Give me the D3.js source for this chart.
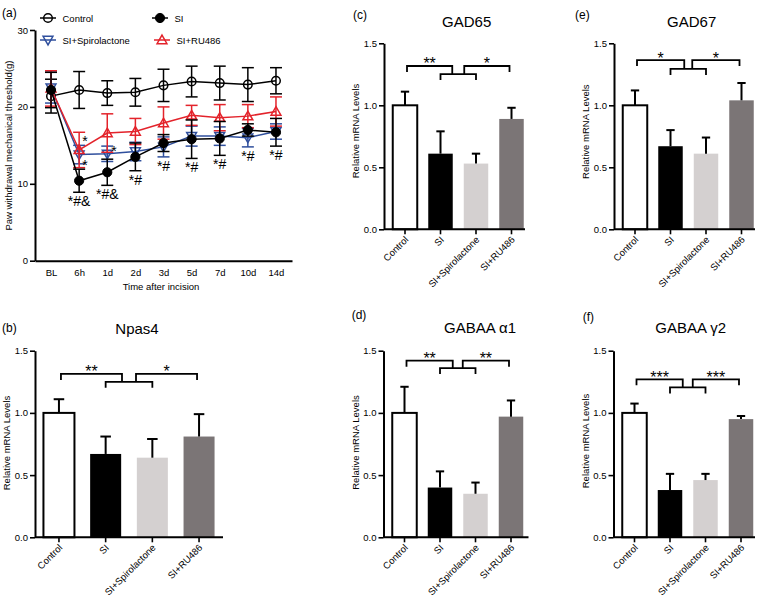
<!DOCTYPE html>
<html><head><meta charset="utf-8">
<script src="https://cdn.jsdelivr.net/npm/d3@7"></script>
<style>
body{margin:0;background:#fff}
svg{display:block}
text{font-family:"Liberation Sans",Arial,Helvetica,sans-serif;fill:#000}
</style>
</head><body>
<svg id="chart" width="760" height="598"></svg>
<script>
// ---------- DATA: panel (a) ----------
const timepoints = ["BL","6h","1d","2d","3d","5d","7d","10d","14d"];
const controlMean = [21.4,22.2,21.8,21.9,22.8,23.3,23.1,22.9,23.4];
const controlErr  = [2.2,2.4,1.6,1.8,2.1,2.0,2.2,2.2,1.7];
const siMean      = [22.2,10.4,11.5,13.5,15.3,15.8,15.9,17.0,16.7];
const siErr       = [2.3,1.5,1.7,1.8,1.1,2.5,2.2,0.8,1.8];
const spiroMean   = [22.5,13.8,13.9,14.2,14.8,16.2,16.2,16.0,16.8];
const spiroErr    = [2.0,1.2,1.0,1.2,1.3,1.3,1.2,1.2,1.0];
const ru486Mean   = [22.4,14.4,16.6,16.8,17.9,18.9,18.6,18.8,19.4];
const ru486Err    = [2.3,2.3,2.5,1.7,2.1,1.3,1.7,1.5,1.9];
const timeSigLabels = ["","*#&","*#&","*#","*#","*#","*#","*#","*#"];

// ---------- DATA: bar panels ----------
const groups = ["Control","SI","SI+Spirolactone","SI+RU486"];
const npas4Mean  = [1.00,0.67,0.64,0.81];
const npas4Err   = [0.11,0.14,0.15,0.18];
const gad65Mean  = [1.00,0.61,0.53,0.89];
const gad65Err   = [0.11,0.18,0.08,0.09];
const gad67Mean  = [1.00,0.67,0.61,1.04];
const gad67Err   = [0.12,0.13,0.13,0.14];
const gabaA1Mean = [1.00,0.40,0.35,0.97];
const gabaA1Err  = [0.21,0.13,0.09,0.13];
const gabaG2Mean = [1.00,0.38,0.46,0.95];
const gabaG2Err  = [0.075,0.13,0.05,0.025];
const barTicks = [0,0.5,1.0,1.5];

const svg = d3.select("#chart");

// ================= Panel (a) =================
const xA = d3.scalePoint().domain(timepoints).range([35,292]).padding(0.57);
const yA = d3.scaleLinear().domain([0,30]).range([260.7,30]);
const gA = svg.append("g");

function styleAxis(g){
  g.select(".domain").attr("stroke","#000").attr("stroke-width",2);
  g.selectAll(".tick line").attr("stroke","#000").attr("stroke-width",1.6);
  g.selectAll(".tick text").attr("font-size","9.5px").attr("fill","#000");
}

gA.append("g").attr("transform","translate(35,0)")
  .call(d3.axisLeft(yA).tickValues([0,10,20,30]).tickSize(5).tickSizeOuter(0).tickPadding(2))
  .call(styleAxis);
gA.append("g").attr("transform","translate(0,260.7)")
  .call(d3.axisBottom(xA).tickSize(0).tickSizeOuter(0).tickPadding(9))
  .call(styleAxis);

gA.append("text").attr("x",161).attr("y",290).attr("text-anchor","middle")
  .attr("font-size","9.5px").text("Time after incision");
gA.append("text").attr("transform","translate(11.5,145.5) rotate(-90)").attr("text-anchor","middle")
  .attr("font-size","9.5px").text("Paw withdrawal mechanical threshold(g)");
gA.append("text").attr("x",2).attr("y",17).attr("font-size","12px").text("(a)");

const seriesA = [
  {name:"Control", mean:controlMean, err:controlErr, color:"#000", sym:"circleOpen"},
  {name:"SI+Spirolactone", mean:spiroMean, err:spiroErr, color:"#2f4f9d", sym:"triDown"},
  {name:"SI+RU486", mean:ru486Mean, err:ru486Err, color:"#e3232b", sym:"triUp"},
  {name:"SI", mean:siMean, err:siErr, color:"#000", sym:"circleFilled"}
];

function drawMarker(g, sym, color, x, y){
  if(sym==="circleOpen"){
    g.append("circle").attr("cx",x).attr("cy",y).attr("r",4.3)
      .attr("fill","none").attr("stroke",color).attr("stroke-width",1.5);
  } else if(sym==="circleFilled"){
    g.append("circle").attr("cx",x).attr("cy",y).attr("r",4.6)
      .attr("fill",color).attr("stroke",color).attr("stroke-width",1);
  } else {
    const p = d3.symbol().type(d3.symbolTriangle).size(42)();
    g.append("path").attr("d",p)
      .attr("transform",`translate(${x},${y + (sym==="triDown"? -0.8:0.8)}) rotate(${sym==="triDown"?180:0})`)
      .attr("fill","none").attr("stroke",color).attr("stroke-width",1.5);
  }
}

const line = d3.line().x((d,i)=>xA(timepoints[i])).y(d=>yA(d));
seriesA.forEach(s=>{
  const g = gA.append("g");
  g.append("path").attr("d",line(s.mean)).attr("fill","none")
    .attr("stroke",s.color).attr("stroke-width",1.5);
  s.mean.forEach((m,i)=>{
    const x = xA(timepoints[i]);
    const y1 = yA(m + s.err[i]), y0 = yA(m - s.err[i]);
    g.append("line").attr("x1",x).attr("x2",x).attr("y1",y1).attr("y2",y0)
      .attr("stroke",s.color).attr("stroke-width",1.5);
    [y1,y0].forEach(yy=>g.append("line").attr("x1",x-6).attr("x2",x+6).attr("y1",yy).attr("y2",yy)
      .attr("stroke",s.color).attr("stroke-width",1.5));
  });
  s.mean.forEach((m,i)=>drawMarker(g, s.sym, s.color, xA(timepoints[i]), yA(m)));
});

// significance labels under the lowest error bar
timepoints.forEach((t,i)=>{
  if(!timeSigLabels[i]) return;
  const low = d3.min(seriesA, s=>s.mean[i]-s.err[i]);
  gA.append("text").attr("x",xA(t)).attr("y",yA(low)+14).attr("text-anchor","middle")
    .attr("font-size","14px").text(timeSigLabels[i]);
});
// small stars next to early drug-group points
gA.append("text").attr("x",xA("6h")+3).attr("y",yA(ru486Mean[1])-4).attr("font-size","14px").text("*");
gA.append("text").attr("x",xA("6h")+3).attr("y",yA(spiroMean[1])+15).attr("font-size","14px").text("*");
gA.append("text").attr("x",xA("1d")+4).attr("y",yA(spiroMean[2])+2).attr("font-size","14px").text("*");

// legend
const legendA = [
  {s:seriesA[0], x:48, y:18}, {s:seriesA[3], x:160, y:18},
  {s:seriesA[1], x:48, y:40}, {s:seriesA[2], x:162, y:40}
];
legendA.forEach(l=>{
  const g = gA.append("g");
  g.append("line").attr("x1",l.x-8).attr("x2",l.x+8).attr("y1",l.y).attr("y2",l.y)
    .attr("stroke",l.s.color).attr("stroke-width",1.5);
  drawMarker(g,l.s.sym,l.s.color,l.x,l.y);
  g.append("text").attr("x",l.x+14.5).attr("y",l.y+3.5).attr("font-size","9.5px").text(l.s.name);
});

// ================= Bar panels =================
const barFill = ["#ffffff","#000000","#d4d0d0","#7b7576"];

const panels = [
  {letter:"(b)", title:"Npas4", mean:npas4Mean, err:npas4Err, sig:["**","*"],
   x0:35, w:188, yTop:350.7, yBot:537.3, rangeL:35.6, rangeR:222.4, pad:0.336,
   titleX:137, titleY:334, letterX:2, letterY:332, ylabY:443, brTop:1.313, brMid:1.25, gap:7},
  {letter:"(c)", title:"GAD65", mean:gad65Mean, err:gad65Err, sig:["**","*"],
   x0:384, w:141, yTop:43.3, yBot:229.3, rangeL:387.25, rangeR:529.25, pad:0.31,
   titleX:466.7, titleY:27, letterX:353, letterY:19, ylabY:131, brTop:1.317, brMid:1.252, gap:6},
  {letter:"(e)", title:"GAD67", mean:gad67Mean, err:gad67Err, sig:["*","*"],
   x0:614, w:141, yTop:43.3, yBot:229.3, rangeL:617.25, rangeR:759.25, pad:0.31,
   titleX:691.7, titleY:27, letterX:575, letterY:19, ylabY:131.7, brTop:1.365, brMid:1.293, gap:4},
  {letter:"(d)", title:"GABAA \u03b11", mean:gabaA1Mean, err:gabaA1Err, sig:["**","**"],
   x0:383.5, w:145, yTop:350.7, yBot:537.3, rangeL:386.75, rangeR:528.75, pad:0.31,
   titleX:480, titleY:333, letterX:351.7, letterY:319, ylabY:442.5, brTop:1.42, brMid:1.36, gap:5},
  {letter:"(f)", title:"GABAA \u03b32", mean:gabaG2Mean, err:gabaG2Err, sig:["***","***"],
   x0:613.5, w:141.5, yTop:350.7, yBot:537.3, rangeL:616.75, rangeR:758.75, pad:0.31,
   titleX:690.7, titleY:333, letterX:582.7, letterY:321, ylabY:441, brTop:1.27, brMid:1.205, gap:5}
];

panels.forEach(p=>{
  const g = svg.append("g");
  const x = d3.scaleBand().domain(groups).range([p.rangeL,p.rangeR]).paddingInner(p.pad).paddingOuter(p.pad/2);
  const y = d3.scaleLinear().domain([0,1.5]).range([p.yBot,p.yTop]);
  const bw = x.bandwidth();

  // bars
  groups.forEach((c,i)=>{
    g.append("rect").attr("x",x(c)).attr("y",y(p.mean[i])).attr("width",bw)
      .attr("height",y(0)-y(p.mean[i])).attr("fill",barFill[i])
      .attr("stroke", i===0 ? "#000" : "none").attr("stroke-width",2);
    const cx = x(c)+bw/2, yt = y(p.mean[i]+p.err[i]);
    g.append("line").attr("x1",cx).attr("x2",cx).attr("y1",y(p.mean[i])).attr("y2",yt)
      .attr("stroke","#000").attr("stroke-width",2);
    g.append("line").attr("x1",cx-bw*0.17).attr("x2",cx+bw*0.17).attr("y1",yt).attr("y2",yt)
      .attr("stroke","#000").attr("stroke-width",2);
  });

  // y axis
  g.append("g").attr("transform",`translate(${p.x0},0)`)
    .call(d3.axisLeft(y).tickValues(barTicks).tickFormat(d3.format(".1f")).tickSize(5).tickSizeOuter(0).tickPadding(2))
    .call(styleAxis);
  // x axis
  g.append("line").attr("x1",p.x0).attr("x2",p.x0+p.w).attr("y1",p.yBot).attr("y2",p.yBot)
    .attr("stroke","#000").attr("stroke-width",2);
  groups.forEach(c=>{
    const cx = x(c)+bw/2;
    g.append("line").attr("x1",cx).attr("x2",cx).attr("y1",p.yBot).attr("y2",p.yBot+5)
      .attr("stroke","#000").attr("stroke-width",1.6);
    g.append("text").attr("transform",`translate(${cx+4},${p.yBot+11}) rotate(-45)`)
      .attr("text-anchor","end").attr("font-size","9.5px").text(c);
  });

  // labels
  g.append("text").attr("x",p.titleX).attr("y",p.titleY).attr("text-anchor","middle")
    .attr("font-size","15px").text(p.title);
  g.append("text").attr("x",p.letterX).attr("y",p.letterY).attr("font-size","12px").text(p.letter);
  g.append("text").attr("transform",`translate(${p.x0-25},${p.ylabY}) rotate(-90)`)
    .attr("text-anchor","middle").attr("font-size","9.5px").text("Relative mRNA Levels");

  // significance brackets
  const c0 = x(groups[0])+bw/2, c1 = x(groups[1])+bw/2, c2 = x(groups[2])+bw/2, c3 = x(groups[3])+bw/2;
  const mid = (c1+c2)/2;
  const yT = y(p.brTop), yM = y(p.brMid), leg = 6;
  const br = d3.path();
  // left bracket
  br.moveTo(c0+2, yT+leg); br.lineTo(c0+2, yT); br.lineTo(mid-p.gap, yT); br.lineTo(mid-p.gap, yM);
  // right bracket
  br.moveTo(mid+p.gap, yM); br.lineTo(mid+p.gap, yT); br.lineTo(c3-2, yT); br.lineTo(c3-2, yT+leg);
  // middle bracket
  br.moveTo(c1, yM+leg); br.lineTo(c1, yM); br.lineTo(c2, yM); br.lineTo(c2, yM+leg);
  g.append("path").attr("d",br.toString()).attr("fill","none").attr("stroke","#000").attr("stroke-width",1.8);
  g.append("text").attr("x",(c0+2+mid-p.gap)/2).attr("y",yT+3.5).attr("text-anchor","middle")
    .attr("font-size","16px").text(p.sig[0]);
  g.append("text").attr("x",(mid+p.gap+c3-2)/2).attr("y",yT+3.5).attr("text-anchor","middle")
    .attr("font-size","16px").text(p.sig[1]);
});
</script>
</body></html>
